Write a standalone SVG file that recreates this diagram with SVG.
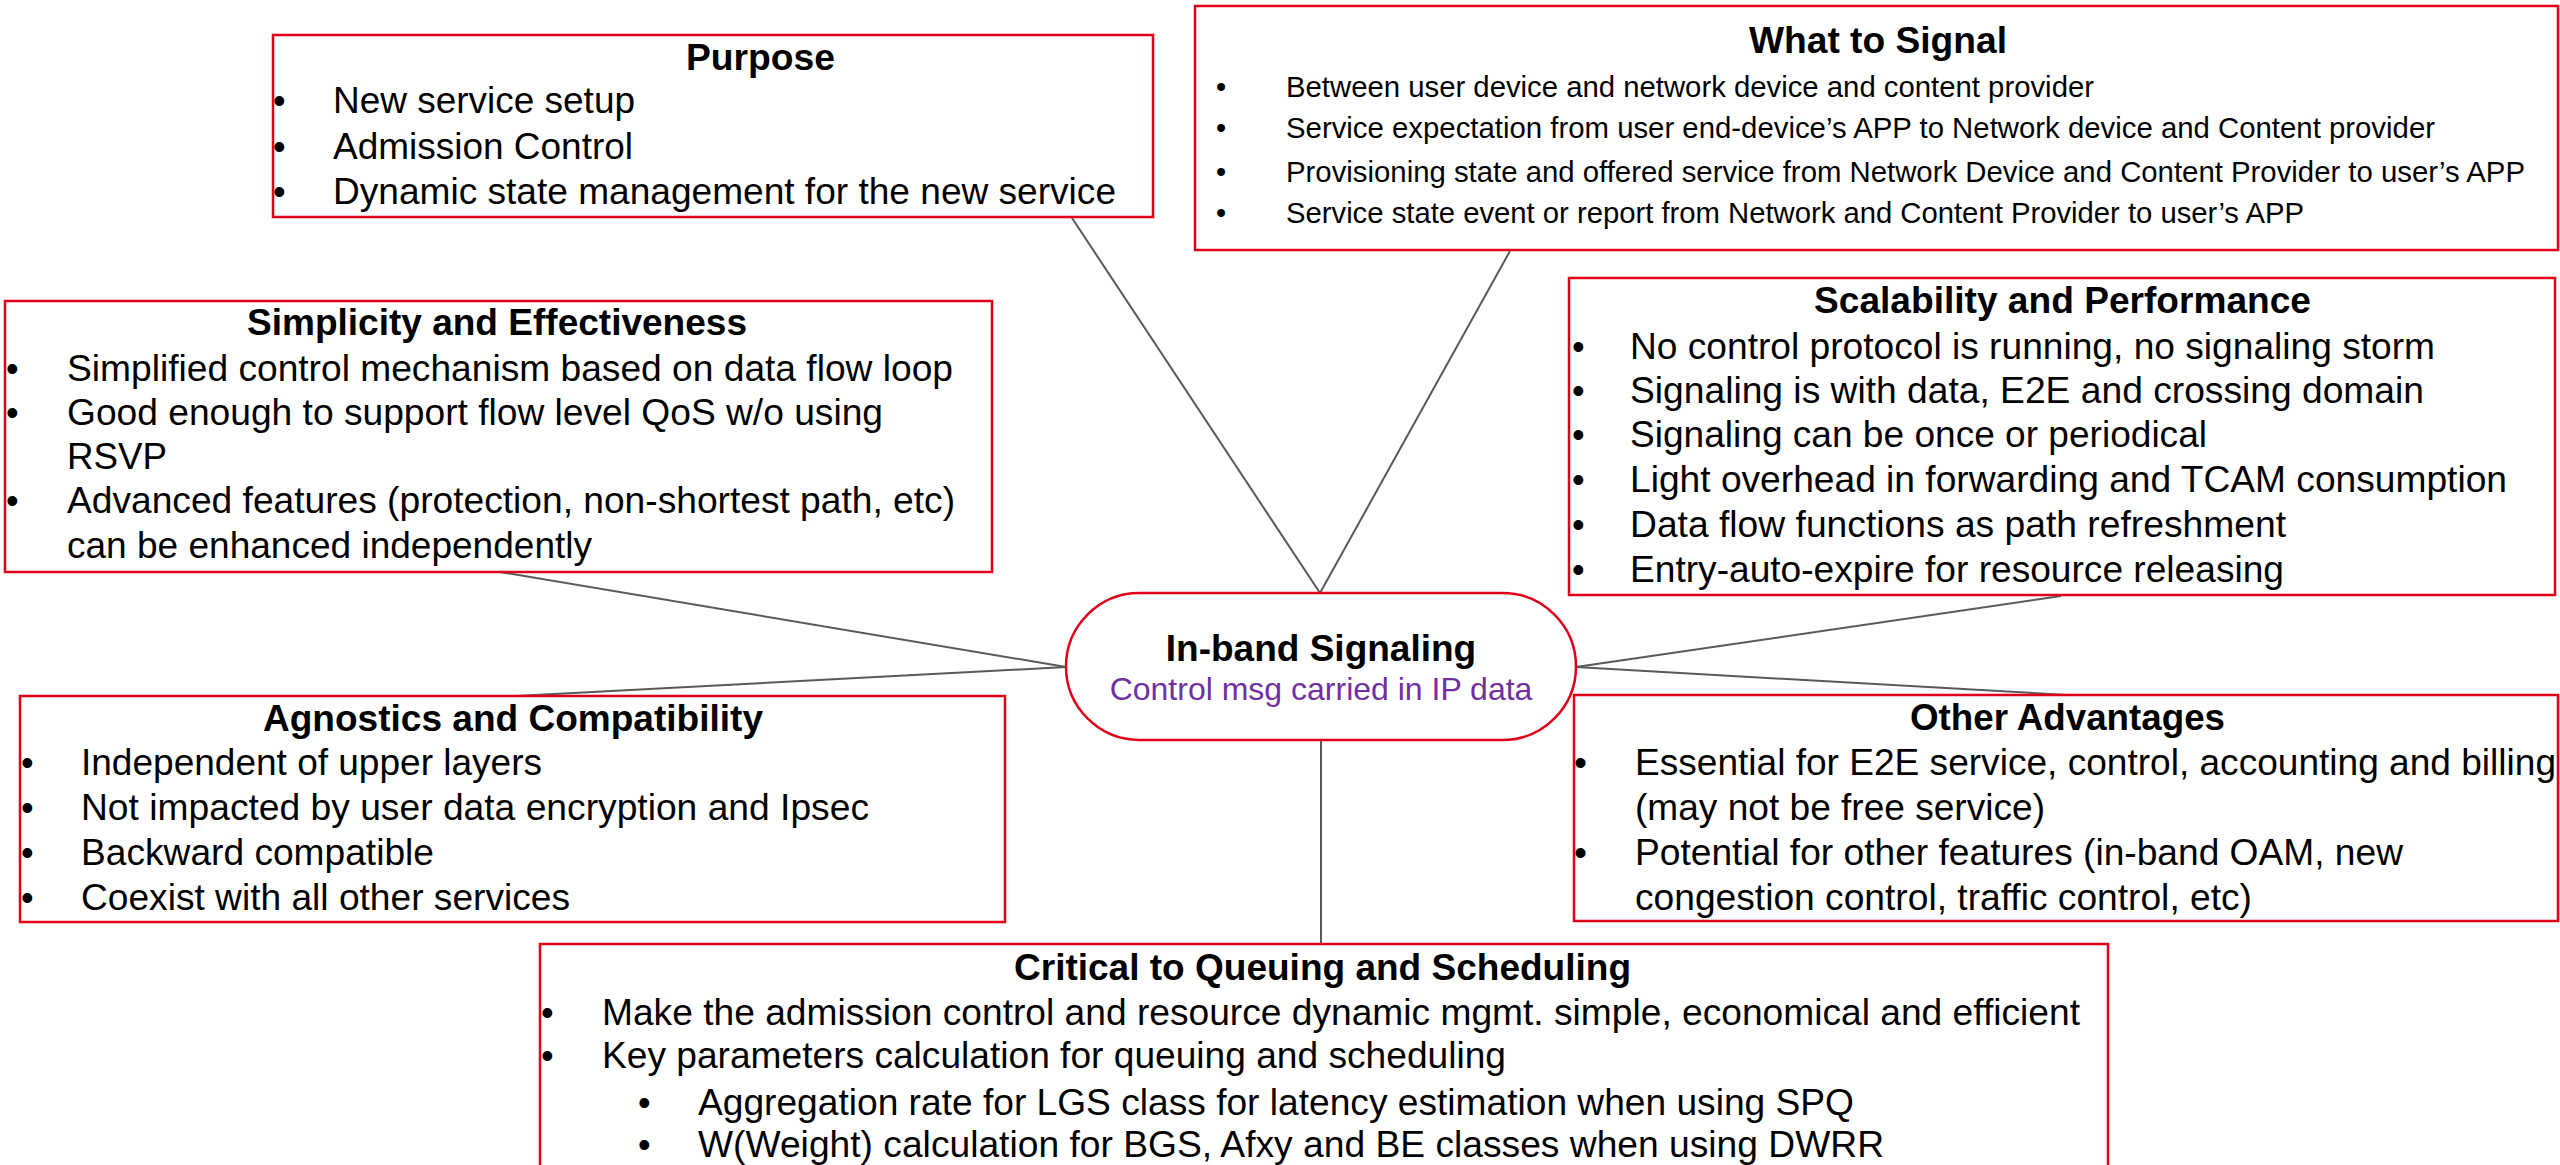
<svg xmlns="http://www.w3.org/2000/svg" width="2560" height="1165" viewBox="0 0 2560 1165">
<style>
text{font-family:"Liberation Sans",Arial,sans-serif;fill:#000}
.box{fill:#fff;stroke:#E1001A;stroke-width:2.5}
.t{font-weight:bold;font-size:36px}
.b33{font-size:36px}
.b28{font-size:29px}
.b34{font-size:36px}
.b35{font-size:37px}
.conn line{stroke:#595959;stroke-width:2}
</style>
<rect width="2560" height="1165" fill="#fff"/>
<g id="connectors" class="conn">
<line x1="1072" y1="218" x2="1320" y2="593"/>
<line x1="1510" y1="251" x2="1320" y2="593"/>
<line x1="500" y1="572" x2="1066" y2="667"/>
<line x1="516" y1="696" x2="1066" y2="667"/>
<line x1="2061" y1="596" x2="1576" y2="667"/>
<line x1="2067" y1="695" x2="1576" y2="667"/>
<line x1="1321" y1="741" x2="1321" y2="944"/>
</g>
<g id="purpose">
<rect class="box" x="273" y="35" width="880" height="182"/>
<text class="t" x="686" y="70" textLength="149" lengthAdjust="spacingAndGlyphs">Purpose</text>
<g class="b33">
<text x="273" y="113">•</text><text x="333" y="113" textLength="302" lengthAdjust="spacingAndGlyphs">New service setup</text>
<text x="273" y="159">•</text><text x="333" y="159" textLength="300" lengthAdjust="spacingAndGlyphs">Admission Control</text>
<text x="273" y="204">•</text><text x="333" y="204" textLength="783" lengthAdjust="spacingAndGlyphs">Dynamic state management for the new service</text>
</g>
</g>
<g id="what-to-signal">
<rect class="box" x="1195" y="6" width="1363" height="244"/>
<text class="t" x="1749" y="53" textLength="258" lengthAdjust="spacingAndGlyphs">What to Signal</text>
<g class="b28">
<text x="1216" y="97">•</text><text x="1286" y="97" textLength="808" lengthAdjust="spacingAndGlyphs">Between user device and network device and content provider</text>
<text x="1216" y="138">•</text><text x="1286" y="138" textLength="1149" lengthAdjust="spacingAndGlyphs">Service expectation from user end-device’s APP to Network device and Content provider</text>
<text x="1216" y="182">•</text><text x="1286" y="182" textLength="1239" lengthAdjust="spacingAndGlyphs">Provisioning state and offered service from Network Device and Content Provider to user’s APP</text>
<text x="1216" y="223">•</text><text x="1286" y="223" textLength="1018" lengthAdjust="spacingAndGlyphs">Service state event or report from Network and Content Provider to user’s APP</text>
</g>
</g>
<g id="simplicity">
<rect class="box" x="5" y="301" width="987" height="271"/>
<text class="t" x="247" y="335" textLength="500" lengthAdjust="spacingAndGlyphs">Simplicity and Effectiveness</text>
<g class="b34">
<text x="6" y="381">•</text><text x="67" y="381" textLength="886" lengthAdjust="spacingAndGlyphs">Simplified control mechanism based on data flow loop</text>
<text x="6" y="425">•</text><text x="67" y="425" textLength="816" lengthAdjust="spacingAndGlyphs">Good enough to support flow level QoS w/o using</text>
<text x="67" y="469" textLength="100" lengthAdjust="spacingAndGlyphs">RSVP</text>
<text x="6" y="513">•</text><text x="67" y="513" textLength="888" lengthAdjust="spacingAndGlyphs">Advanced features (protection, non-shortest path, etc)</text>
<text x="67" y="558" textLength="525" lengthAdjust="spacingAndGlyphs">can be enhanced independently</text>
</g>
</g>
<g id="scalability">
<rect class="box" x="1569" y="278" width="986" height="317"/>
<text class="t" x="1814" y="313" textLength="497" lengthAdjust="spacingAndGlyphs">Scalability and Performance</text>
<g class="b34">
<text x="1572" y="359">•</text><text x="1630" y="359" textLength="805" lengthAdjust="spacingAndGlyphs">No control protocol is running, no signaling storm</text>
<text x="1572" y="403">•</text><text x="1630" y="403" textLength="794" lengthAdjust="spacingAndGlyphs">Signaling is with data, E2E and crossing domain</text>
<text x="1572" y="447">•</text><text x="1630" y="447" textLength="577" lengthAdjust="spacingAndGlyphs">Signaling can be once or periodical</text>
<text x="1572" y="492">•</text><text x="1630" y="492" textLength="877" lengthAdjust="spacingAndGlyphs">Light overhead in forwarding and TCAM consumption</text>
<text x="1572" y="537">•</text><text x="1630" y="537" textLength="656" lengthAdjust="spacingAndGlyphs">Data flow functions as path refreshment</text>
<text x="1572" y="582">•</text><text x="1630" y="582" textLength="654" lengthAdjust="spacingAndGlyphs">Entry-auto-expire for resource releasing</text>
</g>
</g>
<g id="in-band-signaling">
<rect x="1066" y="593" width="510" height="147" rx="73.5" ry="73.5" fill="#fff" stroke="#E1001A" stroke-width="2.5"/>
<text x="1321" y="661" text-anchor="middle" font-weight="bold" font-size="37">In-band Signaling</text>
<text x="1321" y="700" text-anchor="middle" font-size="32" style="fill:#7030A0">Control msg carried in IP data</text>
</g>
<g id="agnostics">
<rect class="box" x="20" y="696" width="985" height="226"/>
<text class="t" x="263" y="731" textLength="500" lengthAdjust="spacingAndGlyphs">Agnostics and Compatibility</text>
<g class="b33">
<text x="21" y="775">•</text><text x="81" y="775" textLength="461" lengthAdjust="spacingAndGlyphs">Independent of upper layers</text>
<text x="21" y="820">•</text><text x="81" y="820" textLength="788" lengthAdjust="spacingAndGlyphs">Not impacted by user data encryption and Ipsec</text>
<text x="21" y="865">•</text><text x="81" y="865" textLength="353" lengthAdjust="spacingAndGlyphs">Backward compatible</text>
<text x="21" y="910">•</text><text x="81" y="910" textLength="489" lengthAdjust="spacingAndGlyphs">Coexist with all other services</text>
</g>
</g>
<g id="other-advantages">
<rect class="box" x="1574" y="695" width="984" height="226"/>
<text class="t" x="1910" y="730" textLength="315" lengthAdjust="spacingAndGlyphs">Other Advantages</text>
<g class="b35">
<text x="1574" y="775">•</text><text x="1635" y="775" textLength="921" lengthAdjust="spacingAndGlyphs">Essential for E2E service, control, accounting and billing</text>
<text x="1635" y="820" textLength="410" lengthAdjust="spacingAndGlyphs">(may not be free service)</text>
<text x="1574" y="865">•</text><text x="1635" y="865" textLength="768" lengthAdjust="spacingAndGlyphs">Potential for other features (in-band OAM, new</text>
<text x="1635" y="910" textLength="617" lengthAdjust="spacingAndGlyphs">congestion control, traffic control, etc)</text>
</g>
</g>
<g id="critical">
<rect class="box" x="540" y="944" width="1568" height="260"/>
<text class="t" x="1014" y="980" textLength="617" lengthAdjust="spacingAndGlyphs">Critical to Queuing and Scheduling</text>
<g class="b33">
<text x="541" y="1025">•</text><text x="602" y="1025" textLength="1478" lengthAdjust="spacingAndGlyphs">Make the admission control and resource dynamic mgmt. simple, economical and efficient</text>
<text x="541" y="1068">•</text><text x="602" y="1068" textLength="904" lengthAdjust="spacingAndGlyphs">Key parameters calculation for queuing and scheduling</text>
<text x="638" y="1115">•</text><text x="698" y="1115" textLength="1156" lengthAdjust="spacingAndGlyphs">Aggregation rate for LGS class for latency estimation when using SPQ</text>
<text x="638" y="1157">•</text><text x="698" y="1157" textLength="1186" lengthAdjust="spacingAndGlyphs">W(Weight) calculation for BGS, Afxy and BE classes when using DWRR</text>
</g>
</g>
</svg>
